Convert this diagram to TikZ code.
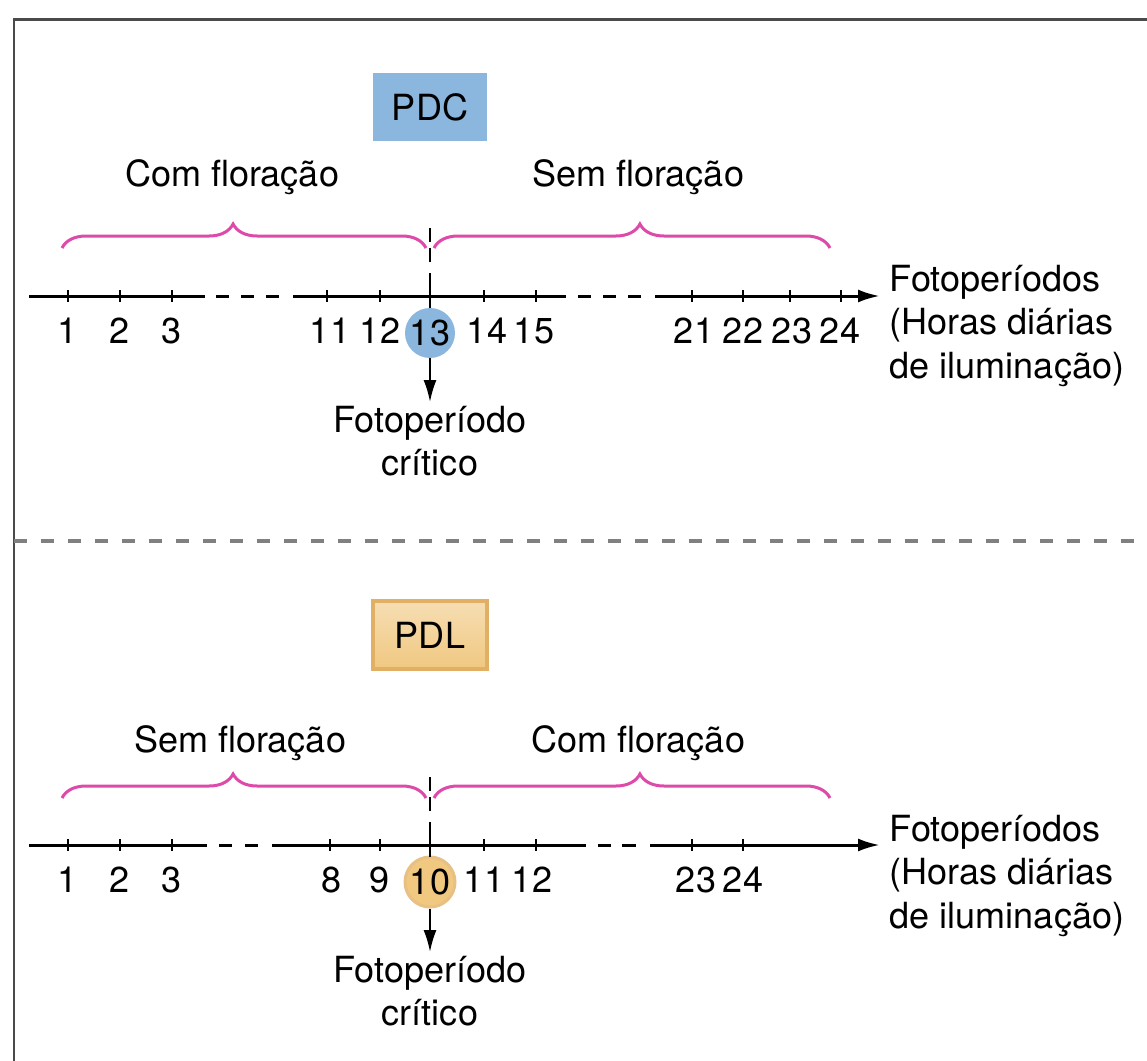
\documentclass[tikz,border=0pt]{standalone}
\usepackage{fontspec}
\setmainfont{TeX Gyre Heros}
\usetikzlibrary{positioning, arrows.meta, decorations.pathreplacing, shapes.geometric}
\usepackage{xcolor}
\definecolor{pdcblue}{HTML}{8BB6DD}
\definecolor{pdlfill}{HTML}{F0C880}
\definecolor{pdledge}{HTML}{E2B065}
\definecolor{florpink}{HTML}{DE4AAA}
\definecolor{framegray}{HTML}{4A4A4A}
\definecolor{divgray}{HTML}{808080}

\begin{document}
\begin{tikzpicture}[
    x=0.02cm, y=-0.02cm,
    every node/.style={font=\fontsize{20.5}{24.7}\selectfont, inner sep=2pt},
    pdbox/.style={minimum width=2.3cm, minimum height=1.36cm, inner sep=0pt},
    crit/.style={circle, minimum size=1.0cm, inner sep=0pt},
    num/.style={anchor=base},
    ax/.style={line width=0.06cm},
    tk/.style={line width=0.04cm},
    vdash/.style={line width=0.04cm, dash pattern=on 0.28cm off 0.12cm},
    brc/.style={decorate, decoration={brace, amplitude=0.48cm}, draw=florpink, line width=0.06cm},
    axlbl/.style={anchor=west, align=left},
    tip/.style={-{Latex[length=0.44cm, width=0.26cm]}},
  ]
  \useasboundingbox (0,0) rectangle (1147,1061);

  % Frame and divider
  \draw[framegray, line width=0.06cm] (14,1061) -- (14,20) -- (1147,20);
  \draw[divgray, line width=0.08cm, dash pattern=on 0.26cm off 0.28cm] (14,541) -- (1147,541);

  % ---------- PDC ----------
  \node[pdbox, fill=pdcblue] (pdc) at (430,107) {PDC};
  \node (comA) at (232,177) {Com floração};
  \node (semA) at (638,177) {Sem floração};
  \draw[brc, decoration={aspect=0.47}] (62,248) -- (426,248);
  \draw[brc, decoration={aspect=0.52}] (434,248) -- (830,248);
  \draw[vdash] (430,228) -- (430,266);

  % Axis
  \coordinate (a0) at (29,296);
  \coordinate (aEnd) at (880,296);
  \draw[ax] (a0) -- (205,296);
  \draw[ax] (216,296) -- (229,296) (241,296) -- (254,296) (266,296) -- (279,296);
  \draw[ax] (293,296) -- (566,296);
  \draw[ax] (578,296) -- (591,296) (603,296) -- (616,296) (628,296) -- (641,296);
  \draw[ax, tip] (655,296) -- (aEnd);
  \draw[tk] (68,290) -- (68,302) (120,290) -- (120,302) (172,290) -- (172,302)
            (327,290) -- (327,302) (380,290) -- (380,302) (484,290) -- (484,302)
            (536,290) -- (536,302) (692,290) -- (692,302) (743,290) -- (743,302)
            (790,290) -- (790,302) (841,290) -- (841,302);

  \node[num] (a1) at (68,343) {1};
  \node[num] (a2) at (120,343) {2};
  \node[num] (a3) at (172,343) {3};
  \node[num] (a11) at (330,343) {11};
  \node[num] (a12) at (380,343) {12};
  \node[crit, fill=pdcblue] (c13) at (430,333) {\raisebox{-4pt}{13}};
  \node[num] (a14) at (487,343) {14};
  \node[num] (a15) at (534,343) {15};
  \node[num] (a21) at (694,343) {21};
  \node[num] (a22) at (743,343) {22};
  \node[num] (a23) at (792,343) {23};
  \node[num] (a24) at (840,343) {24};
  \draw[tk] (430,273) -- (430,308);

  \node[axlbl] (fotoA) at (886,326) {Fotoperíodos\\(Horas diárias\\de iluminação)};
  \node[align=center, anchor=north] (critA) at (430,402) {Fotoperíodo\\crítico};
  \draw[tk, tip] (c13.south) -- (critA.north);

  % ---------- PDL ----------
  \node[pdbox, top color=pdlfill!60!white, bottom color=pdlfill, draw=pdledge, line width=0.08cm] (pdl) at (430,635) {PDL};
  \node (semB) at (240,743) {Sem floração};
  \node (comB) at (638,743) {Com floração};
  \draw[brc, decoration={aspect=0.47}] (62,798) -- (426,798);
  \draw[brc, decoration={aspect=0.52}] (434,798) -- (830,798);
  \draw[vdash] (430,777) -- (430,815);

  % Axis
  \coordinate (b0) at (29,845);
  \coordinate (bEnd) at (880,845);
  \draw[ax] (b0) -- (207,845);
  \draw[ax] (219,845) -- (232,845) (245,845) -- (258,845);
  \draw[ax] (272,845) -- (586,845);
  \draw[ax] (598,845) -- (611,845) (622,845) -- (636,845);
  \draw[ax, tip] (650,845) -- (bEnd);
  \draw[tk] (68,839) -- (68,851) (120,839) -- (120,851) (172,839) -- (172,851)
            (330,839) -- (330,851) (380,839) -- (380,851) (484,839) -- (484,851)
            (536,839) -- (536,851) (692,839) -- (692,851) (743,839) -- (743,851);

  \node[num] (b1) at (68,892) {1};
  \node[num] (b2) at (120,892) {2};
  \node[num] (b3) at (172,892) {3};
  \node[num] (b8) at (332,892) {8};
  \node[num] (b9) at (380,892) {9};
  \node[crit, fill=pdlfill, draw=pdledge!80!white, line width=0.06cm] (c10) at (430,882) {\raisebox{-4pt}{10}};
  \node[num] (b11) at (484,892) {11};
  \node[num] (b12) at (532,892) {12};
  \node[num] (b23) at (696,892) {23};
  \node[num] (b24) at (743,892) {24};
  \draw[tk] (430,822) -- (430,857);

  \node[axlbl] (fotoB) at (886,876) {Fotoperíodos\\(Horas diárias\\de iluminação)};
  \node[align=center, anchor=north] (critB) at (430,952) {Fotoperíodo\\crítico};
  \draw[tk, tip] (c10.south) -- (critB.north);
\end{tikzpicture}
\end{document}
